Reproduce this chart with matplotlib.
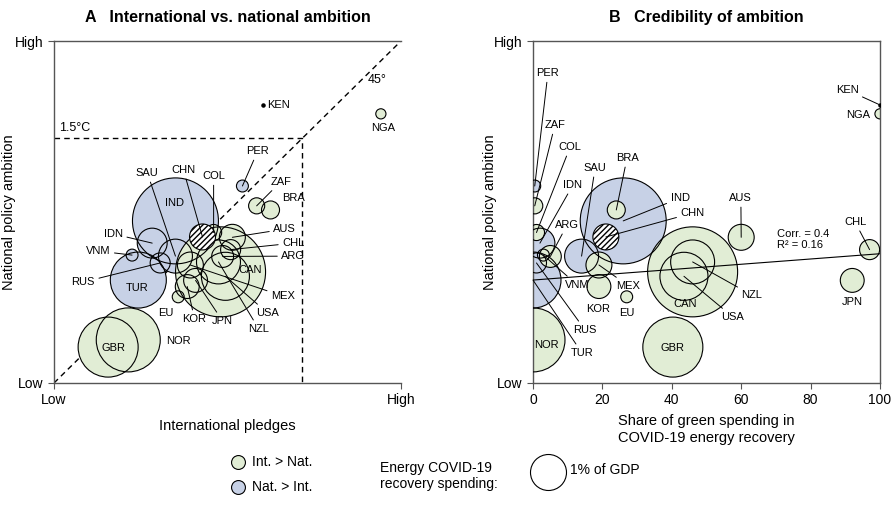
import matplotlib
matplotlib.use('Agg')
import matplotlib.pyplot as plt
import numpy as np

plt.rcParams['font.family'] = ['Liberation Sans', 'DejaVu Sans']

# data
codes = ['KEN', 'NGA', 'PER', 'ZAF', 'BRA', 'COL', 'AUS', 'CHL', 'ARG', 'CAN',
         'USA', 'NZL', 'MEX', 'JPN', 'KOR', 'EU', 'GBR', 'NOR', 'TUR', 'RUS',
         'VNM', 'IDN', 'SAU', 'CHN', 'IND']
intl = [0.601, 0.942, 0.543, 0.584, 0.624, 0.460, 0.514, 0.509, 0.486, 0.480,
        0.494, 0.474, 0.393, 0.408, 0.384, 0.358, 0.156, 0.214, 0.243, 0.306,
        0.225, 0.283, 0.350, 0.428, 0.350]
natl = [0.813, 0.787, 0.576, 0.518, 0.506, 0.440, 0.426, 0.390, 0.370, 0.325,
        0.312, 0.354, 0.345, 0.300, 0.282, 0.252, 0.105, 0.126, 0.301, 0.351,
        0.374, 0.409, 0.371, 0.427, 0.474]
green = [100, 100, 0.5, 0.5, 24, 1, 60, 97, 5, 46,
         43.5, 46, 19, 92, 19, 27, 40.3, 0, 0, 1,
         3, 2, 14, 21, 26]
spend = [0.01, 0.08, 0.11, 0.20, 0.25, 0.20, 0.52, 0.31, 0.37, 6.25,
         1.78, 1.49, 0.52, 0.44, 0.44, 0.11, 2.78, 3.16, 2.42, 0.31,
         0.11, 0.69, 0.89, 0.52, 5.70]
group = ['dot', 'int', 'nat', 'int', 'int', 'int', 'int', 'int', 'int', 'int',
         'int', 'int', 'int', 'int', 'int', 'int', 'int', 'int', 'nat', 'nat',
         'nat', 'nat', 'nat', 'chn', 'nat']

threshold = 0.715          # 1.5°C line
fit_intercept = 0.301      # regression in panel B
fit_slope = 0.00077

# label placement (x, y, leader line)
labels_a = {
    'KEN': (0.613, 0.813, False), 'NGA': (0.948, 0.746, False),
    'PER': (0.587, 0.678, True), 'ZAF': (0.653, 0.588, True),
    'BRA': (0.690, 0.541, False), 'COL': (0.460, 0.605, True),
    'CHN': (0.373, 0.623, True), 'SAU': (0.269, 0.614, True),
    'IND': (0.347, 0.526, False), 'AUS': (0.665, 0.450, True),
    'CHL': (0.690, 0.409, True), 'ARG': (0.690, 0.371, True),
    'CAN': (0.566, 0.330, False), 'MEX': (0.660, 0.254, True),
    'USA': (0.615, 0.205, True), 'NZL': (0.590, 0.158, True),
    'JPN': (0.486, 0.181, True), 'KOR': (0.405, 0.187, True),
    'EU': (0.321, 0.205, False), 'GBR': (0.171, 0.102, False),
    'NOR': (0.360, 0.123, False), 'TUR': (0.240, 0.278, False),
    'RUS': (0.084, 0.295, True), 'VNM': (0.127, 0.386, True),
    'IDN': (0.171, 0.436, True),
}
labels_b = {
    'PER': (4.3, 0.906, True), 'ZAF': (6.3, 0.754, True),
    'COL': (10.7, 0.690, True), 'SAU': (17.9, 0.629, True),
    'BRA': (27.1, 0.658, True), 'IDN': (11.5, 0.579, True),
    'IND': (42.4, 0.541, True), 'CHN': (46.0, 0.497, True),
    'ARG': (9.8, 0.462, True), 'VNM': (12.7, 0.287, True),
    'MEX': (27.5, 0.284, True), 'KOR': (18.7, 0.216, False),
    'EU': (27.1, 0.205, False), 'CAN': (43.8, 0.231, False),
    'RUS': (15.0, 0.155, True), 'NOR': (4.0, 0.111, False),
    'TUR': (14.1, 0.088, True), 'GBR': (40.3, 0.102, False),
    'KEN': (90.5, 0.857, True), 'NGA': (93.7, 0.784, False),
    'AUS': (59.9, 0.541, True), 'CHL': (92.8, 0.471, True),
    'NZL': (63.1, 0.257, True), 'USA': (57.6, 0.193, True),
    'JPN': (91.9, 0.237, False),
}

GREEN = '#e1edd5'
BLUE = '#c7d1e6'
S1 = (2 * 18 * 0.72) ** 2   # marker area for 1% of GDP


def draw_bubbles(ax, xs, labels):
    xs = np.array(xs)
    ys = np.array(natl)
    sz = np.array(spend) * S1
    grp = np.array(group)
    order = np.argsort(spend)[::-1]
    for g, c in [('nat', BLUE), ('int', GREEN)]:
        idx = [i for i in order if grp[i] == g]
        ax.scatter(xs[idx], ys[idx], s=sz[idx], c=c, edgecolors='none', zorder=2)
    idx = [i for i in order if grp[i] in ('nat', 'int')]
    ax.scatter(xs[idx], ys[idx], s=sz[idx], facecolors='none',
               edgecolors='black', linewidths=0.8, zorder=3)
    idx = [i for i in range(len(codes)) if grp[i] == 'chn']
    ax.scatter(xs[idx], ys[idx], s=sz[idx], facecolors='white', hatch='//////',
               edgecolors='black', linewidths=0.8, zorder=4)
    idx = [i for i in range(len(codes)) if grp[i] == 'dot']
    ax.scatter(xs[idx], ys[idx], s=5, c='black', zorder=4)
    for i, code in enumerate(codes):
        if code not in labels:
            continue
        lx, ly, line = labels[code]
        ha = 'left' if code == 'KEN' and not line else 'center'
        if line:
            ax.annotate(code, xy=(xs[i], ys[i]), xytext=(lx, ly), fontsize=8,
                        ha=ha, va='center', zorder=5, annotation_clip=False,
                        arrowprops=dict(arrowstyle='-', lw=0.7, color='black',
                                        shrinkA=1, shrinkB=0))
        else:
            ax.text(lx, ly, code, fontsize=8, ha=ha, va='center', zorder=5)


fig = plt.figure(figsize=(8.95, 5.24), dpi=100)
axA = fig.add_axes([54 / 895, 141 / 524, 347 / 895, 342 / 524])
axB = fig.add_axes([533 / 895, 141 / 524, 347 / 895, 342 / 524])

# panel A
draw_bubbles(axA, intl, labels_a)
axA.plot([0, 1], [0, 1], ls=(0, (4, 3)), color='black', lw=1, zorder=1)
axA.plot([0, threshold, threshold], [threshold, threshold, 0],
         ls=(0, (4, 3)), color='black', lw=1, zorder=1)
axA.text(0.015, threshold + 0.012, '1.5°C', fontsize=9, va='bottom')
axA.text(0.93, 0.885, '45°', fontsize=9, ha='center', va='center')
axA.set_xlim(0, 1)
axA.set_ylim(0, 1)
axA.set_xticks([0, 1], ['Low', 'High'])
axA.set_yticks([0, 1], ['Low', 'High'])
axA.spines['right'].set_visible(False)
axA.set_xlabel('International pledges', fontsize=10.5, labelpad=8)
axA.set_ylabel('National policy ambition', fontsize=10.5)
axA.yaxis.set_label_coords(-0.11, 0.5)
axA.set_title('A   International vs. national ambition', fontsize=11.5,
              fontweight='bold', pad=14)

# panel B
draw_bubbles(axB, green, labels_b)
fx = np.array([0, 100])
axB.plot(fx, fit_intercept + fit_slope * fx, color='black', lw=0.8, zorder=4)
axB.text(70.3, 0.42, 'Corr. = 0.4\nR² = 0.16', fontsize=8, va='center',
         linespacing=1.15)
axB.set_xlim(0, 100)
axB.set_ylim(0, 1)
axB.set_xticks([0, 20, 40, 60, 80, 100])
axB.set_yticks([0, 1], ['Low', 'High'])
axB.set_xlabel('Share of green spending in\nCOVID-19 energy recovery',
               fontsize=10.5, labelpad=5)
axB.set_ylabel('National policy ambition', fontsize=10.5)
axB.yaxis.set_label_coords(-0.105, 0.5)
axB.set_title('B   Credibility of ambition', fontsize=11.5,
              fontweight='bold', pad=14)

for ax in (axA, axB):
    for sp in ax.spines.values():
        sp.set_color('#555555')
        sp.set_linewidth(1)
    ax.tick_params(labelsize=10, length=4, color='#555555')

# legend
lg = fig.add_axes([0, 0, 1, 1], zorder=-1)
lg.set_xlim(0, 895)
lg.set_ylim(524, 0)
lg.axis('off')
lg.scatter([238], [462], s=100, c=GREEN, edgecolors='black', linewidths=0.8)
lg.scatter([238], [487], s=100, c=BLUE, edgecolors='black', linewidths=0.8)
lg.text(252, 462, 'Int. > Nat.', fontsize=10, va='center')
lg.text(252, 487, 'Nat. > Int.', fontsize=10, va='center')
lg.text(380, 476, 'Energy COVID-19\nrecovery spending:', fontsize=10,
        va='center', linespacing=1.2)
lg.scatter([548], [472], s=S1, facecolors='white', edgecolors='black',
           linewidths=0.8)
lg.text(570, 470, '1% of GDP', fontsize=10, va='center')

fig.savefig('out.png', dpi=100)
